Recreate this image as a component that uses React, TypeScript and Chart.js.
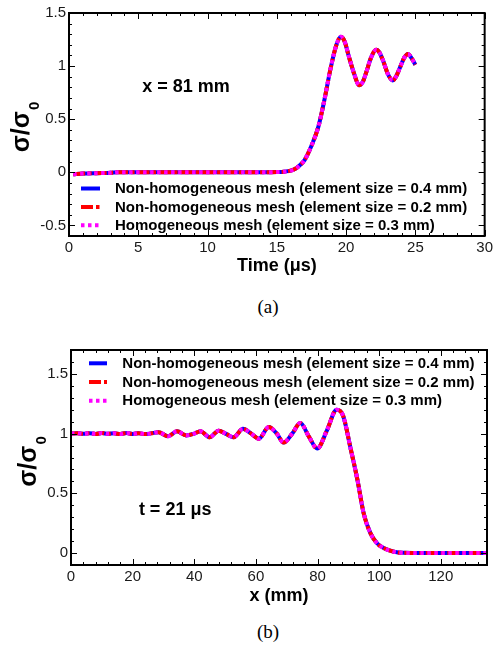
import React, { useEffect, useRef } from 'react';
import { Chart, registerables } from 'chart.js';

Chart.register(...registerables);

// ---------- data ----------
const timeUs = [0.3, 1, 2, 3, 3.5, 5, 8, 11, 14, 15, 15.5, 16, 16.3, 16.6, 17, 17.5, 18, 18.4, 18.9, 19.3, 19.62, 19.9, 20.2, 20.6, 20.93, 21.2, 21.5, 21.8, 22.17, 22.4, 22.7, 23.0, 23.37, 23.6, 23.9, 24.2, 24.46, 24.7, 25];
const stressAt81mm = [-0.018, -0.012, -0.008, -0.005, 0, 0, 0, 0, 0, 0.002, 0.005, 0.015, 0.03, 0.06, 0.115, 0.25, 0.43, 0.66, 0.99, 1.2, 1.277, 1.23, 1.09, 0.92, 0.82, 0.85, 0.96, 1.08, 1.153, 1.13, 1.04, 0.93, 0.865, 0.9, 0.99, 1.08, 1.115, 1.08, 1.012];

const positionMm = [0, 2, 4, 6, 8, 10, 12, 14, 16, 18, 20, 22, 24, 26, 28.4, 31.5, 34.4, 37.4, 40, 42, 45, 47.9, 50.5, 52.8, 55.8, 58.5, 60.9, 64.2, 66.8, 69.0, 71.8, 74.4, 77.3, 79.9, 83.1, 86.2, 88.3, 90.7, 92.9, 95.0, 97.2, 99.4, 101.6, 104.8, 108, 115, 125, 135];
const stressAt21us = [1.0, 1.003, 0.998, 1.004, 0.997, 1.005, 0.998, 1.003, 0.996, 1.005, 0.997, 1.004, 0.996, 1.002, 1.012, 0.978, 1.02, 0.985, 1.0, 1.02, 0.97, 1.025, 0.995, 0.97, 1.04, 1.0, 0.957, 1.055, 1.0, 0.925, 1.0, 1.088, 0.97, 0.875, 1.03, 1.2, 1.15, 0.88, 0.62, 0.33, 0.165, 0.08, 0.04, 0.011, 0.002, 0, 0, 0];

const timeTicks = [0, 5, 10, 15, 20, 25, 30];
const stressTicksA = [-0.5, 0, 0.5, 1, 1.5];
const positionTicks = [0, 20, 40, 60, 80, 100, 120];
const stressTicksB = [0, 0.5, 1, 1.5];

const seriesLabels = [
  'Non-homogeneous mesh (element size = 0.4 mm)',
  'Non-homogeneous mesh (element size = 0.2 mm)',
  'Homogeneous mesh (element size = 0.3 mm)',
];
const seriesColors = ['#0000ff', '#ff0000', '#ff00ff'];
const seriesDashes = [[], [12, 3, 3.5, 3], [3.5, 3.5]];

const yTitleMain = 'σ/σ';
const yTitleSub = '0';

const SANS = '"Liberation Sans", Arial, sans-serif';

// ---------- plugins ----------
const frameTicksPlugin = {
  id: 'frameTicks',
  afterDatasetsDraw(chart: any, _args: any, opts: any) {
    const { ctx, chartArea } = chart;
    const { left, right, top, bottom } = chartArea;
    const xs = chart.scales.x;
    const ys = chart.scales.y;
    ctx.save();
    ctx.strokeStyle = '#000';
    ctx.lineWidth = 1;
    ctx.setLineDash([]);
    ctx.beginPath();
    const vx = (v: number, len: number) => {
      const p = Math.round(xs.getPixelForValue(v)) + 0.5;
      ctx.moveTo(p, bottom); ctx.lineTo(p, bottom - len);
      ctx.moveTo(p, top); ctx.lineTo(p, top + len);
    };
    const vy = (v: number, len: number) => {
      const p = Math.round(ys.getPixelForValue(v)) + 0.5;
      ctx.moveTo(left, p); ctx.lineTo(left + len, p);
      ctx.moveTo(right, p); ctx.lineTo(right - len, p);
    };
    const minors = (scale: any, step: number, fn: (v: number) => void) => {
      const k0 = Math.ceil(scale.min / step - 1e-6);
      const k1 = Math.floor(scale.max / step + 1e-6);
      for (let k = k0; k <= k1; k++) fn(k * step);
    };
    minors(xs, opts.xMinor, (v) => vx(v, 3));
    minors(ys, opts.yMinor, (v) => vy(v, 3));
    xs.ticks.forEach((t: any) => vx(t.value, 6));
    ys.ticks.forEach((t: any) => vy(t.value, 6));
    ctx.stroke();
    ctx.lineWidth = 2;
    ctx.strokeRect(left, top, right - left, bottom - top);
    ctx.restore();
  },
};

const notePlugin = {
  id: 'note',
  afterDatasetsDraw(chart: any, _args: any, opts: any) {
    const { ctx } = chart;
    ctx.save();
    ctx.font = `bold 18px ${SANS}`;
    ctx.fillStyle = '#000';
    ctx.textAlign = 'center';
    ctx.textBaseline = 'middle';
    ctx.fillText(opts.text, chart.scales.x.getPixelForValue(opts.x), chart.scales.y.getPixelForValue(opts.y));
    ctx.restore();
  },
};

// y-axis title with a true subscript, drawn rotated beside the y scale
const yTitlePlugin = {
  id: 'yTitle',
  afterDraw(chart: any, _args: any, opts: any) {
    const { ctx, chartArea } = chart;
    ctx.save();
    const mainFont = `bold 25px ${SANS}`;
    const subFont = `bold 15px ${SANS}`;
    ctx.font = mainFont;
    const w1 = ctx.measureText(opts.main).width;
    ctx.font = subFont;
    const w2 = ctx.measureText(opts.sub).width;
    const total = w1 + 1 + w2;
    const cy = (chartArea.top + chartArea.bottom) / 2 + opts.dy;
    ctx.translate(opts.baseX, cy);
    ctx.rotate(-Math.PI / 2);
    ctx.fillStyle = '#000';
    ctx.textAlign = 'left';
    ctx.textBaseline = 'alphabetic';
    ctx.font = mainFont;
    ctx.fillText(opts.main, -total / 2, 0);
    ctx.font = subFont;
    ctx.fillText(opts.sub, -total / 2 + w1 + 1, 10);
    ctx.restore();
  },
};

const boxLegendPlugin = {
  id: 'boxLegend',
  afterDatasetsDraw(chart: any, _args: any, opts: any) {
    const { ctx, chartArea } = chart;
    ctx.save();
    ctx.font = `bold 15px ${SANS}`;
    ctx.textBaseline = 'middle';
    ctx.textAlign = 'left';
    chart.data.datasets.forEach((ds: any, i: number) => {
      const y = chartArea.top + opts.y0 + i * opts.rowH;
      const x0 = chartArea.left + opts.x0;
      ctx.beginPath();
      ctx.setLineDash(ds.borderDash || []);
      ctx.lineWidth = 4;
      ctx.lineCap = 'butt';
      ctx.strokeStyle = ds.borderColor;
      ctx.moveTo(x0, y);
      ctx.lineTo(x0 + opts.len, y);
      ctx.stroke();
      ctx.setLineDash([]);
      ctx.fillStyle = '#000';
      ctx.fillText(ds.label, chartArea.left + opts.textX, y + 0.5);
    });
    ctx.restore();
  },
};

function makeDatasets(xv: number[], yv: number[]) {
  return seriesLabels.map((label, i) => ({
    label,
    data: xv.map((x, k) => ({ x, y: yv[k] })),
    borderColor: seriesColors[i],
    backgroundColor: seriesColors[i],
    borderDash: seriesDashes[i],
    borderWidth: 4,
    pointRadius: 0,
    cubicInterpolationMode: 'monotone',
    fill: false,
    order: 3 - i,
  }));
}

function axis(opts: {
  min: number; max: number; ticks: number[]; title?: string; titleSize?: number;
  fit: (s: any) => void; pad: number; titlePad?: any;
}) {
  return {
    type: 'linear',
    min: opts.min,
    max: opts.max,
    afterBuildTicks: (s: any) => { s.ticks = opts.ticks.map((v) => ({ value: v })); },
    afterFit: opts.fit,
    grid: { display: false, drawTicks: false },
    border: { display: false },
    ticks: {
      padding: opts.pad,
      autoSkip: false,
      maxRotation: 0,
      color: '#1a1a1a',
      font: { family: SANS, size: 15 },
      callback: (v: any) => String(v),
    },
    title: {
      display: !!opts.title,
      text: opts.title || '',
      color: '#000',
      font: { family: SANS, size: opts.titleSize || 18, weight: 'bold' },
      padding: opts.titlePad || 0,
    },
  };
}

function ChartCanvas({ config, width, height }: { config: any; width: number; height: number }) {
  const ref = useRef<HTMLCanvasElement | null>(null);
  useEffect(() => {
    if (!ref.current) return;
    const chart = new Chart(ref.current, config);
    return () => chart.destroy();
  }, [config]);
  return <canvas ref={ref} width={width} height={height} style={{ display: 'block', width, height }} />;
}

const configA = {
  type: 'line',
  data: { datasets: makeDatasets(timeUs, stressAt81mm) },
  plugins: [frameTicksPlugin, notePlugin, boxLegendPlugin, yTitlePlugin],
  options: {
    animation: false,
    responsive: false,
    layout: { padding: { left: 0, right: 8, top: 13, bottom: 0 } },
    plugins: {
      legend: { display: false },
      tooltip: { enabled: false },
      frameTicks: { xMinor: 1, yMinor: 0.1 },
      note: { text: 'x = 81 mm', x: 8.45, y: 0.8 },
      boxLegend: { x0: 12, len: 19, textX: 46, y0: 175.5, rowH: 18.4 },
      yTitle: { main: yTitleMain, sub: yTitleSub, baseX: 28.5, dy: 2.5 },
    },
    scales: {
      x: axis({ min: 0, max: 30, ticks: timeTicks, title: 'Time (μs)', titleSize: 18, fit: (s: any) => { s.height = 54; }, pad: 3, titlePad: { top: 0, bottom: 13 } }),
      y: axis({ min: -0.6, max: 1.5, ticks: stressTicksA, fit: (s: any) => { s.width = 69; }, pad: 3 }),
    },
  },
};

const configB = {
  type: 'line',
  data: { datasets: makeDatasets(positionMm, stressAt21us) },
  plugins: [frameTicksPlugin, notePlugin, boxLegendPlugin, yTitlePlugin],
  options: {
    animation: false,
    responsive: false,
    layout: { padding: { left: 0, right: 9, top: 30, bottom: 0 } },
    plugins: {
      legend: { display: false },
      tooltip: { enabled: false },
      frameTicks: { xMinor: 4, yMinor: 0.1 },
      note: { text: 't = 21 μs', x: 33.8, y: 0.36 },
      boxLegend: { x0: 18, len: 18, textX: 51.3, y0: 13.3, rowH: 18.7 },
      yTitle: { main: yTitleMain, sub: yTitleSub, baseX: 36, dy: 4 },
    },
    scales: {
      x: axis({ min: 0, max: 135, ticks: positionTicks, title: 'x (mm)', titleSize: 18, fit: (s: any) => { s.height = 55; }, pad: 3, titlePad: { top: 0, bottom: 13 } }),
      y: axis({ min: -0.1, max: 1.7, ticks: stressTicksB, fit: (s: any) => { s.width = 71; }, pad: 3 }),
    },
  },
};

const captionStyle: React.CSSProperties = {
  position: 'absolute',
  left: 228,
  width: 80,
  textAlign: 'center',
  fontFamily: '"Liberation Serif", "Times New Roman", serif',
  fontSize: 19,
  lineHeight: '20px',
  color: '#000',
};

export default function App() {
  return (
    <div style={{ position: 'absolute', left: 0, top: 0, width: 496, height: 648, background: '#fff', overflow: 'hidden' }}>
      <div style={{ position: 'absolute', left: 0, top: 0 }}>
        <ChartCanvas config={configA} width={496} height={290} />
      </div>
      <div style={{ ...captionStyle, top: 297 }}>(a)</div>
      <div style={{ position: 'absolute', left: 0, top: 320 }}>
        <ChartCanvas config={configB} width={496} height={300} />
      </div>
      <div style={{ ...captionStyle, top: 622 }}>(b)</div>
    </div>
  );
}
